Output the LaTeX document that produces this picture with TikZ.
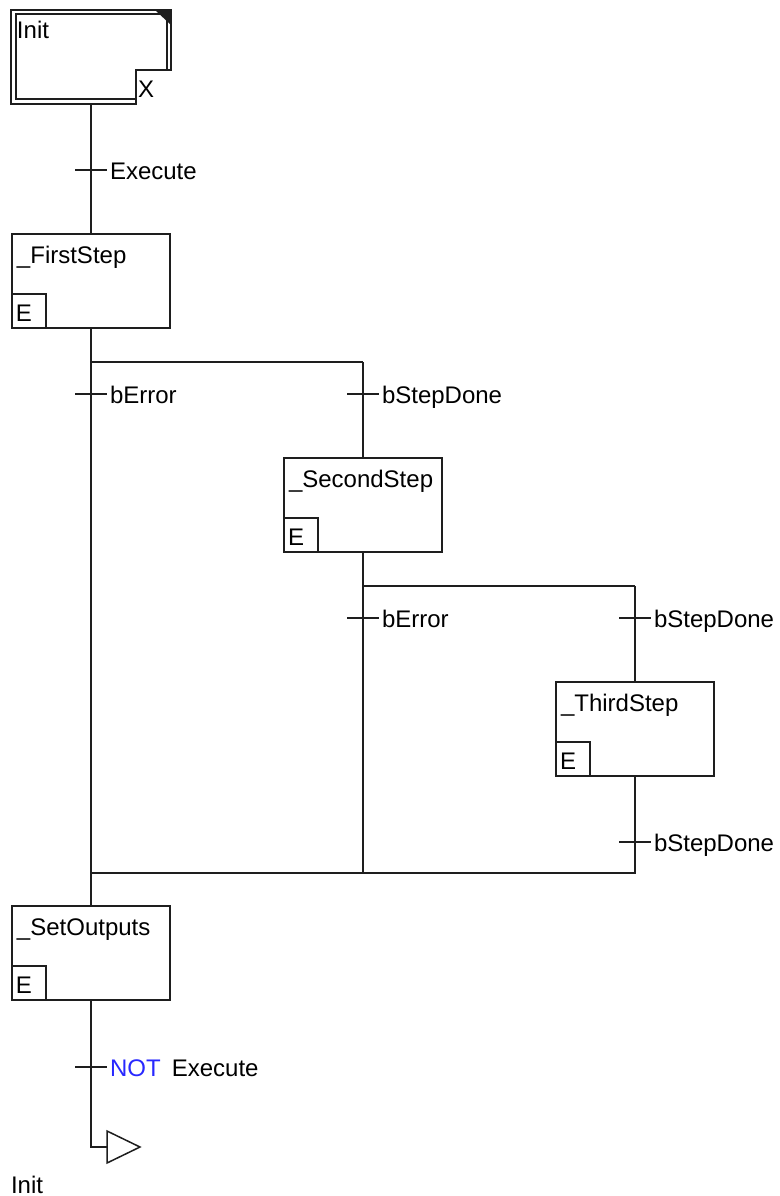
\documentclass[tikz,border=0pt]{standalone}
\usepackage{fontspec}
\setmainfont{Liberation Sans}
\usetikzlibrary{calc}
\definecolor{notblue}{RGB}{40,40,255}
\definecolor{ln}{RGB}{30,30,30}
\tikzset{
  wire/.style={draw=ln, line width=0.75pt},
  stepbox/.style={draw=ln, line width=0.75pt, rectangle, inner sep=0pt, outer sep=0pt, minimum width=79pt, minimum height=47pt},
  ebox/.style={draw=ln, line width=0.75pt, rectangle, inner sep=0pt, outer sep=0pt, minimum width=17pt, minimum height=17pt},
  trans/.style={rectangle, inner sep=0pt, outer sep=0pt, minimum width=16pt, minimum height=0pt},
  lbl/.style={inner sep=0pt, outer sep=0pt, font=\fontsize{12pt}{14pt}\selectfont, text=black},
}
\begin{document}
\begin{tikzpicture}[x=0.5pt,y=-0.5pt]
\useasboundingbox (0,0) rectangle (780,1196);
% Initial step
\node[rectangle, inner sep=0pt, outer sep=0pt, minimum width=80pt, minimum height=47pt, anchor=north west] (init) at (11,10) {};
\draw[wire] (11,10) -- (171,10) -- (171,70) -- (136,70) -- (136,104) -- (11,104) -- cycle;
\draw[wire] (136,99) -- (16,99) -- (16,14) -- (167,14) -- (167,70);
\fill[ln] (155,10) -- (171,10) -- (171,25) -- cycle;
\node[lbl, anchor=base west] (initname) at ($(init.north west)+(6,28)$) {Init};
\node[lbl, anchor=base west] (initx) at (138,97) {X};
% Steps
\node[stepbox, anchor=north west] (s1) at (12,234) {};
\node[stepbox, anchor=north west] (s2) at (284,458) {};
\node[stepbox, anchor=north west] (s3) at (556,682) {};
\node[stepbox, anchor=north west] (s4) at (12,906) {};
\foreach \s/\t in {s1/\_FirstStep, s2/\_SecondStep, s3/\_ThirdStep, s4/\_SetOutputs}{
  \node[lbl, anchor=base west] (\s name) at ($(\s.north west)+(5,29)$) {\t};
  \node[ebox, anchor=south west] (\s e) at (\s.south west) {};
  \node[lbl, anchor=base west] (\s etxt) at ($(\s.south west)+(4,-7)$) {E};
}
% Transitions
\node[trans] (t1) at (91,170) {};
\node[trans] (t2) at (91,394) {};
\node[trans] (t3) at (363,394) {};
\node[trans] (t4) at (363,618) {};
\node[trans] (t5) at (635,618) {};
\node[trans] (t6) at (635,842) {};
\node[trans] (t7) at (91,1067) {};
\foreach \t in {t1,t2,t3,t4,t5,t6,t7}{ \draw[wire] (\t.west) -- (\t.east); }
\node[lbl, anchor=base west] (l1) at ($(t1.east)+(3,9.5)$) {Execute};
\node[lbl, anchor=base west] (l2) at ($(t2.east)+(3,9.5)$) {bError};
\node[lbl, anchor=base west] (l3) at ($(t3.east)+(3,9.5)$) {bStepDone};
\node[lbl, anchor=base west] (l4) at ($(t4.east)+(3,9.5)$) {bError};
\node[lbl, anchor=base west] (l5) at ($(t5.east)+(3,9.5)$) {bStepDone};
\node[lbl, anchor=base west] (l6) at ($(t6.east)+(3,9.5)$) {bStepDone};
\node[lbl, anchor=base west] (l7) at ($(t7.east)+(3,9.5)$) {\textcolor{notblue}{NOT}\hspace{5.6pt}Execute};
% Branch coordinates
\coordinate (d1) at (91,362);
\coordinate (d1r) at (363,362);
\coordinate (d2) at (363,586);
\coordinate (d2r) at (635,586);
\coordinate (c1) at (91,873);
\coordinate (c2) at (363,873);
\coordinate (c3) at (635,873);
\coordinate (jc) at (91,1147);
\coordinate (jmp) at (107,1147);
% Connectors
\draw[wire] (init.south) -- (t1.center) -- (s1.north);
\draw[wire] (s1.south) -- (d1) -- (d1r);
\draw[wire] (d1) -- (t2.center) -- (c1);
\draw[wire] (d1r) -- (t3.center) -- (s2.north);
\draw[wire] (s2.south) -- (d2) -- (d2r);
\draw[wire] (d2) -- (t4.center) -- (c2);
\draw[wire] (d2r) -- (t5.center) -- (s3.north);
\draw[wire] (s3.south) -- (t6.center) -- (c3) -- (c1);
\draw[wire] (c1) -- (s4.north);
\draw[wire] (s4.south) -- (t7.center) -- (jc) -- (jmp);
% Jump
\draw[wire, line join=miter] (jmp) ++(0,-16) -- ++(33,16) -- ++(-33,16) -- cycle;
\node[lbl, anchor=base west] (jumpname) at (11,1193) {Init};
\end{tikzpicture}
\end{document}
